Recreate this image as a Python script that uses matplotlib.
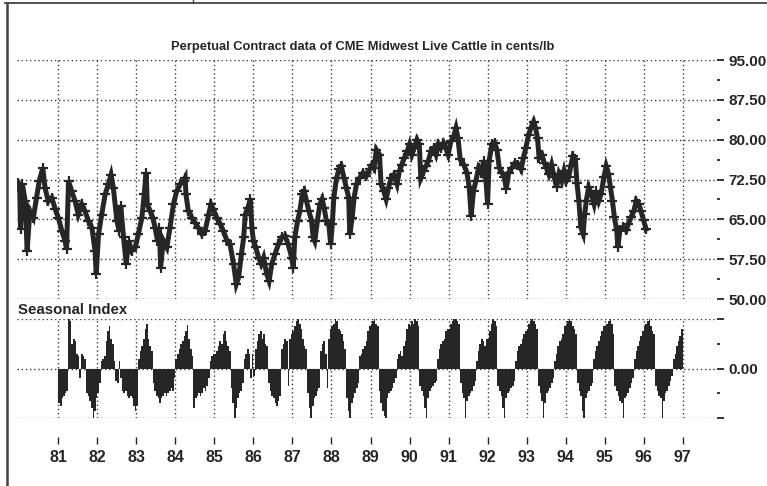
import numpy as np
import matplotlib.pyplot as plt
from matplotlib.lines import Line2D

plt.rcParams['font.family'] = ['Liberation Sans', 'DejaVu Sans']

# perpetual contract, cents/lb -- year (2 digit, decimal) and price
price_t = [79.97, 80.01, 80.03, 80.08, 80.15, 80.20, 80.27, 80.36, 80.44, 80.51,
           80.60, 80.66, 80.74, 80.83, 80.92, 81.00, 81.09, 81.17, 81.21, 81.26,
           81.34, 81.43, 81.51, 81.60, 81.68, 81.77, 81.86, 81.94, 81.97, 82.03,
           82.11, 82.20, 82.28, 82.35, 82.41, 82.50, 82.56, 82.60, 82.67, 82.74,
           82.80, 82.88, 82.97, 83.05, 83.14, 83.20, 83.25, 83.28, 83.35, 83.42,
           83.48, 83.54, 83.59, 83.62, 83.69, 83.78, 83.86, 83.95, 84.03, 84.12,
           84.21, 84.25, 84.27, 84.33, 84.42, 84.50, 84.59, 84.68, 84.76, 84.85,
           84.91, 84.97, 85.06, 85.15, 85.23, 85.32, 85.40, 85.49, 85.56, 85.62,
           85.69, 85.75, 85.79, 85.86, 85.92, 85.96, 86.00, 86.06, 86.13, 86.20,
           86.26, 86.34, 86.40, 86.47, 86.55, 86.64, 86.72, 86.81, 86.89, 86.98,
           87.02, 87.06, 87.13, 87.19, 87.25, 87.30, 87.36, 87.42, 87.49, 87.53,
           87.57, 87.64, 87.70, 87.76, 87.81, 87.87, 87.93, 87.98, 88.02, 88.06,
           88.13, 88.19, 88.25, 88.32, 88.38, 88.44, 88.47, 88.53, 88.58, 88.64,
           88.72, 88.81, 88.89, 88.98, 89.04, 89.09, 89.15, 89.23, 89.27, 89.34,
           89.40, 89.46, 89.53, 89.60, 89.68, 89.74, 89.80, 89.87, 89.94, 90.00,
           90.06, 90.12, 90.19, 90.25, 90.29, 90.36, 90.42, 90.48, 90.55, 90.62,
           90.68, 90.74, 90.80, 90.87, 90.93, 90.99, 91.06, 91.13, 91.19, 91.24,
           91.30, 91.39, 91.47, 91.53, 91.58, 91.64, 91.70, 91.77, 91.84, 91.90,
           91.96, 92.00, 92.04, 92.11, 92.18, 92.24, 92.30, 92.37, 92.43, 92.48,
           92.54, 92.62, 92.71, 92.79, 92.86, 92.92, 92.98, 93.05, 93.11, 93.18,
           93.23, 93.28, 93.32, 93.39, 93.45, 93.51, 93.57, 93.64, 93.71, 93.77,
           93.83, 93.90, 93.96, 94.02, 94.08, 94.13, 94.19, 94.25, 94.29, 94.34,
           94.39, 94.45, 94.49, 94.53, 94.59, 94.66, 94.73, 94.79, 94.85, 94.91,
           94.98, 95.04, 95.10, 95.15, 95.20, 95.25, 95.31, 95.34, 95.39, 95.47,
           95.55, 95.61, 95.68, 95.75, 95.81, 95.87, 95.93, 96.00, 96.06]
price_v = [71.9, 70.5, 63.1, 71.6, 68.4, 59.1, 66.6, 65.3, 69.1, 72.2,
           74.7, 70.9, 68.4, 69.1, 66.9, 65.3, 62.8, 61.0, 59.4, 72.2,
           70.3, 68.4, 65.9, 67.8, 66.6, 64.7, 63.4, 59.1, 54.7, 62.2,
           65.9, 69.7, 71.6, 73.4, 70.9, 64.7, 62.8, 67.5, 61.6, 56.6,
           61.0, 59.1, 59.7, 62.2, 65.3, 69.7, 73.8, 67.8, 66.6, 65.3,
           63.4, 61.0, 63.4, 55.9, 61.0, 59.7, 63.4, 67.8, 70.3, 71.6,
           72.2, 72.8, 69.7, 66.6, 65.3, 64.4, 63.4, 62.2, 62.8, 65.9,
           67.8, 66.9, 65.3, 64.1, 62.8, 61.0, 60.3, 56.6, 52.8, 54.1,
           58.4, 61.6, 65.9, 67.2, 68.8, 63.4, 60.9, 59.7, 57.8, 56.6,
           57.8, 54.7, 53.4, 56.6, 58.4, 60.3, 61.6, 61.9, 60.3, 57.8,
           55.9, 61.6, 64.7, 66.6, 69.7, 70.3, 68.4, 66.6, 64.7, 61.6,
           60.9, 64.7, 67.8, 68.8, 67.2, 64.7, 64.1, 60.3, 64.1, 69.1,
           72.8, 74.4, 75.0, 72.8, 70.9, 69.1, 62.2, 65.3, 69.1, 71.6,
           72.8, 73.8, 73.1, 74.4, 75.3, 74.7, 78.1, 77.2, 71.6, 70.3,
           68.8, 70.9, 72.8, 73.4, 71.6, 74.1, 75.3, 76.6, 77.8, 79.1,
           77.2, 78.4, 80.0, 79.1, 72.8, 74.1, 75.0, 75.9, 77.8, 78.4,
           77.2, 79.1, 78.4, 79.4, 78.4, 77.2, 79.7, 80.6, 82.2, 80.3,
           76.3, 75.3, 73.8, 71.0, 65.7, 70.4, 72.2, 74.7, 73.8, 76.0,
           72.2, 67.9, 76.0, 79.1, 79.4, 78.1, 74.7, 73.8, 72.9, 70.7,
           73.8, 74.7, 75.7, 75.3, 74.4, 76.6, 78.4, 80.9, 82.2, 83.4,
           82.2, 80.3, 76.6, 77.2, 75.7, 74.7, 73.5, 75.3, 72.9, 71.0,
           73.5, 72.2, 74.1, 72.2, 72.9, 75.0, 76.9, 76.3, 71.9, 68.5,
           63.5, 62.3, 66.0, 68.5, 71.0, 69.8, 67.9, 70.4, 68.5, 69.8,
           72.9, 75.0, 73.5, 71.0, 68.5, 65.4, 62.9, 59.8, 62.9, 63.5,
           62.9, 64.2, 65.4, 66.6, 68.5, 67.9, 66.6, 64.8, 63.2]

# seasonal index, half-month bins (24 per year), scaled -100..100
season_years = list(range(81, 97))
s81 = [-70, -75, -60, -55, -50, -45, 100, 95, 50, 60, 55, 30, 25, -20, 30, 25, 20, -50, -55, -65, -80, -100, -85, -60]
s82 = [-50, -30, 15, 20, 25, 55, 75, 85, 60, 50, 15, -25, -30, 15, -20, -45, -50, -45, -55, -60, -55, -60, -75, -85]
s83 = [-75, 20, 35, 45, 60, 80, 90, 60, 45, 35, -30, -45, -55, -60, -70, -60, -55, -50, -55, -50, -45, -40, -45, -20]
s84 = [20, 30, 40, 50, 55, 65, 75, 87, 60, 40, 25, -80, -60, -55, -50, -55, -50, -40, -45, -35, -20, 15, 25, 30]
s85 = [30, 35, 45, 55, 50, 70, 75, 55, 45, 35, -40, -70, -100, -80, -60, -50, -45, -30, 20, 30, 40, 30, -20, 30]
s86 = [-15, 40, 55, 70, 75, 60, 70, 50, 45, -30, -45, -55, -60, -70, -75, -65, -55, 40, 50, 60, 55, -35, 60, 70]
s87 = [75, 85, 95, 100, 90, 80, 60, 45, 40, -50, -80, -100, -75, -60, -55, -45, -40, 35, 50, 55, 30, -40, 60, 80]
s88 = [85, 90, 100, 95, 80, 75, 70, 55, 40, -60, -85, -100, -70, -60, -50, -40, -30, 25, 30, 40, 45, 55, 75, 85]
s89 = [90, 95, 100, 90, 85, -45, -70, -85, -95, -100, -60, -50, -45, -40, -30, -20, 20, 30, 35, 25, 45, 55, 80, 90]
s90 = [85, 95, 90, 100, 95, 85, -35, -45, -55, -80, -100, -60, -45, -40, -35, -30, -25, 20, 40, 50, 55, 60, 75, 80]
s91 = [80, 90, 95, 100, 100, 95, 90, -30, -50, -60, -100, -65, -55, -50, -45, -35, -25, 15, 35, 50, 60, 55, 45, 60]
s92 = [60, 75, 90, 100, 95, 85, -35, -45, -55, -80, -100, -60, -50, -45, -40, -35, -25, 15, 35, 45, 50, 60, 70, 75]
s93 = [80, 90, 95, 100, 95, 90, 80, -35, -50, -65, -100, -70, -50, -45, -40, -30, -20, 15, 30, 45, 55, 60, 70, 85]
s94 = [90, 95, 100, 95, 85, 80, 70, -30, -45, -55, -85, -100, -60, -50, -45, -35, -30, 20, 35, 45, 55, 65, 75, 85]
s95 = [85, 90, 95, 100, 90, 70, -35, -45, -55, -65, -70, -100, -60, -55, -50, -40, -30, -20, 20, 35, 45, 55, 65, 75]
s96 = [85, 90, 95, 100, 85, 75, 70, -35, -45, -55, -60, -100, -65, -50, -45, -35, -25, -15, 20, 30, 45, 55, 65, 80]
seasonal = [s81, s82, s83, s84, s85, s86, s87, s88, s89, s90, s91, s92, s93, s94, s95, s96]

year_ticks = list(range(81, 98))
price_ticks = [50, 57.5, 65, 72.5, 80, 87.5, 95]

ink = '#262626'
W, H = 767, 486
x0, x1 = 79.94, 97.88

fig = plt.figure(figsize=(W / 100, H / 100), dpi=100)
ax1 = fig.add_axes([17 / W, 1 - 299 / H, 700 / W, 239 / H])
ax2 = fig.add_axes([17 / W, 1 - 418 / H, 700 / W, 99 / H])

grid_kw = dict(color='#3a3a3a', linestyle=(0, (1, 2)), linewidth=1.0)

# price panel: thick line + crosses to get the dense daily-bar look
ax1.plot(price_t, price_v, color=ink, lw=3.6, marker='+', ms=7, mew=1.6, solid_joinstyle='miter')
ax1.set_xlim(x0, x1)
ax1.set_ylim(50, 95)
ax1.set_xticks(year_ticks)
ax1.set_yticks(price_ticks)
ax1.set_yticks([t + 3.75 for t in price_ticks[:-1]], minor=True)
ax1.set_yticklabels(['%.2f' % t for t in price_ticks])
ax1.yaxis.tick_right()
ax1.tick_params(axis='x', length=0, labelbottom=False)
ax1.tick_params(axis='y', which='major', length=5, width=1.3, color=ink, pad=3,
                labelsize=11, labelcolor=ink)
ax1.tick_params(axis='y', which='minor', length=2.5, width=1.3, color=ink)
for lbl in ax1.get_yticklabels():
    lbl.set_fontweight('bold')
ax1.grid(True, **grid_kw)

# seasonal index panel
for yr, vals in zip(season_years, seasonal):
    xs = yr + np.arange(24) / 24.0
    ax2.bar(xs, vals, width=1 / 24.0, align='edge', color=ink, edgecolor='none')
ax2.set_xlim(x0, x1)
ax2.set_ylim(-100, 100)
ax2.set_xticks(year_ticks)
ax2.set_xticklabels([str(y) for y in year_ticks])
ax2.set_yticks([-100, 0, 100])
ax2.set_yticklabels(['', '0.00', ''])
ax2.set_yticks([-50, 50], minor=True)
ax2.yaxis.tick_right()
ax2.tick_params(axis='y', which='major', length=5, width=1.3, color=ink, pad=3,
                labelsize=11, labelcolor=ink)
ax2.tick_params(axis='y', which='minor', length=2.5, width=1.3, color=ink)
ax2.spines['bottom'].set_position(('outward', 14))
ax2.tick_params(axis='x', length=5, width=1.0, color=ink, pad=4, labelsize=11.5, labelcolor=ink)
for lbl in ax2.get_xticklabels() + ax2.get_yticklabels():
    lbl.set_fontweight('bold')
ax2.grid(True, **grid_kw)

for ax in (ax1, ax2):
    for s in ax.spines.values():
        s.set_visible(False)
    ax.set_axisbelow(True)

fig.text(363 / W, 1 - 47 / H, 'Perpetual Contract data of CME Midwest Live Cattle in cents/lb',
         ha='center', va='center', fontsize=9.3, fontweight='bold', color=ink)
fig.text(18 / W, 1 - 310 / H, 'Seasonal Index', ha='left', va='center',
         fontsize=10.8, fontweight='bold', color=ink)

# page frame from the scan
fig.add_artist(Line2D([7 / W, 7 / W], [0, 1 - 3 / H], transform=fig.transFigure, color='#444444', lw=1.8))
fig.add_artist(Line2D([5 / W, 1], [1 - 3 / H, 1 - 3 / H], transform=fig.transFigure, color='#444444', lw=1.3))
fig.add_artist(Line2D([193 / W, 193 / W], [1 - 3 / H, 1], transform=fig.transFigure, color='#444444', lw=1.0))

fig.savefig('out.png', dpi=100)
